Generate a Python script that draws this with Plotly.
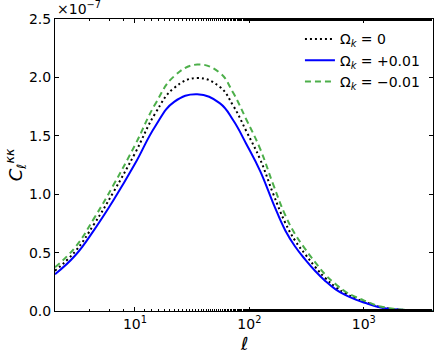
import plotly.graph_objects as go

# multipoli (asse x log) e spettri C_l^kk in unita' di 1e-7
ell = [2, 3, 4.4, 6.5, 10, 15, 22, 35, 55, 72, 94, 124, 162, 206, 252,
       308, 378, 463, 567, 694, 851, 1042, 1400, 2100, 4000]
cl_zero = [0.345, 0.51, 0.745, 1.02, 1.35, 1.69, 1.91, 1.995, 1.92, 1.76, 1.54,
           1.30, 1.00, 0.755, 0.60, 0.485, 0.375, 0.28, 0.205, 0.15, 0.108,
           0.075, 0.034, 0.011, 0.001]
cl_plus = [0.315, 0.475, 0.695, 0.95, 1.26, 1.58, 1.79, 1.855, 1.78, 1.635, 1.43,
           1.20, 0.92, 0.69, 0.55, 0.44, 0.34, 0.255, 0.185, 0.135, 0.097,
           0.068, 0.030, 0.010, 0.001]
cl_minus = [0.375, 0.545, 0.795, 1.08, 1.42, 1.77, 2.01, 2.11, 2.04, 1.87, 1.64,
            1.39, 1.08, 0.82, 0.655, 0.53, 0.415, 0.31, 0.23, 0.165, 0.12,
            0.084, 0.038, 0.013, 0.001]

x_ticks = [10, 100, 1000]
x_ticktext = ["10<sup>1</sup>", "10<sup>2</sup>", "10<sup>3</sup>"]
y_ticks = [0.0, 0.5, 1.0, 1.5, 2.0, 2.5]

FONT = "DejaVu Sans"
SMOOTH = 1.25

fig = go.Figure()
fig.add_trace(go.Scatter(x=ell, y=cl_zero, mode="lines", name="Ω<sub><i>k</i></sub> = 0",
                         line=dict(color="black", width=2, dash="2px,3px",
                                   shape="spline", smoothing=SMOOTH)))
fig.add_trace(go.Scatter(x=ell, y=cl_plus, mode="lines", name="Ω<sub><i>k</i></sub> = +0.01",
                         line=dict(color="#0000ff", width=2,
                                   shape="spline", smoothing=SMOOTH)))
fig.add_trace(go.Scatter(x=ell, y=cl_minus, mode="lines", name="Ω<sub><i>k</i></sub> = −0.01",
                         line=dict(color="#4daf4a", width=2, dash="6px,4px",
                                   shape="spline", smoothing=SMOOTH)))

axis_common = dict(showline=True, linecolor="black", linewidth=1, mirror="ticks",
                   ticks="inside", ticklen=4, tickcolor="black", showgrid=False,
                   zeroline=False, tickfont=dict(family=FONT, size=14, color="black"))

fig.update_xaxes(type="log", range=[0.301, 3.605], tickvals=x_ticks,
                 ticktext=x_ticktext,
                 minor=dict(ticks="inside", ticklen=2, tickcolor="black", showgrid=False),
                 **axis_common)
fig.update_yaxes(range=[0, 2.5], tickvals=y_ticks, tickformat=".1f", **axis_common)

fig.add_annotation(x=0.5, y=-0.11, xref="paper", yref="paper", xanchor="center",
                   yanchor="middle", showarrow=False, text="<i>ℓ</i>",
                   font=dict(family=FONT, size=18, color="black"))
fig.add_annotation(x=-0.105, y=0.5, xref="paper", yref="paper", xanchor="center",
                   yanchor="middle", showarrow=False, textangle=-90,
                   text="<i>C</i><sub><i>ℓ</i></sub><sup><i>κκ</i></sup>",
                   font=dict(family=FONT, size=18, color="black"))
fig.add_annotation(x=0.0, y=1.0, xref="paper", yref="paper", xanchor="left",
                   yanchor="bottom", showarrow=False, text="×10<sup>−7</sup>",
                   font=dict(family=FONT, size=14, color="black"))

fig.update_layout(
    width=436, height=354,
    margin=dict(l=55, r=3, t=19, b=43),
    paper_bgcolor="white", plot_bgcolor="white",
    font=dict(family=FONT, size=14, color="black"),
    legend=dict(x=0.648, y=0.985, xanchor="left", yanchor="top",
                bgcolor="rgba(0,0,0,0)", font=dict(family=FONT, size=14)),
)

# niente margine di default del <body>, cosi' la figura parte da (0,0)
fig.write_html("out.html", config={"displayModeBar": False},
               post_script="document.body.style.margin='0px';")
